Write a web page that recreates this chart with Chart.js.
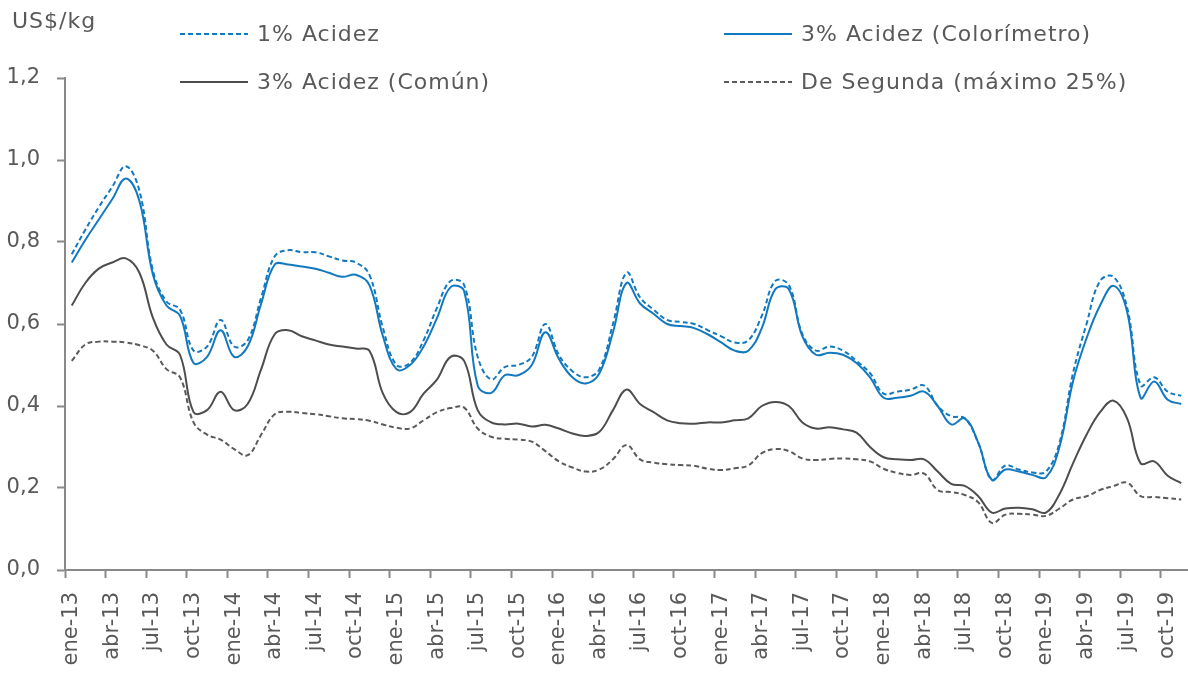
<!DOCTYPE html>
<html>
<head>
<meta charset="utf-8">
<script src="https://cdn.jsdelivr.net/npm/chart.js@4.4.1/dist/chart.umd.min.js"></script>
<style>
  html, body { margin: 0; padding: 0; background: #fff; }
  #wrap { width: 1188px; height: 678px; }
</style>
</head>
<body>
<div id="wrap"><canvas id="chart" width="1188" height="678"></canvas></div>
<script>
// monthly prices, US$/kg, ene-13 .. nov-19
const acidez1 = [
  0.77, 0.83, 0.885, 0.935, 0.985, 0.925, 0.73, 0.655, 0.635, 0.535, 0.545, 0.61,
  0.545, 0.56, 0.665, 0.765, 0.78, 0.775, 0.775, 0.765, 0.755, 0.75, 0.72, 0.59,
  0.50, 0.505, 0.56, 0.64, 0.705, 0.695, 0.52, 0.465, 0.495, 0.50, 0.52, 0.60,
  0.525, 0.485, 0.47, 0.49, 0.60, 0.725, 0.665, 0.635, 0.61, 0.605, 0.60, 0.585,
  0.57, 0.555, 0.56, 0.62, 0.705, 0.695, 0.575, 0.535, 0.545, 0.535, 0.51, 0.48,
  0.43, 0.435, 0.44, 0.45, 0.40, 0.375, 0.37, 0.31, 0.22, 0.255, 0.245, 0.238,
  0.24, 0.31, 0.48, 0.60, 0.705, 0.715, 0.64, 0.45, 0.47, 0.435, 0.425
];
const acidez3Color = [
  0.75, 0.805, 0.855, 0.905, 0.955, 0.90, 0.72, 0.645, 0.62, 0.505, 0.52, 0.585,
  0.52, 0.545, 0.65, 0.745, 0.745, 0.74, 0.735, 0.725, 0.715, 0.72, 0.695, 0.57,
  0.49, 0.50, 0.545, 0.615, 0.69, 0.68, 0.45, 0.432, 0.475, 0.475, 0.50, 0.58,
  0.515, 0.47, 0.455, 0.48, 0.58, 0.70, 0.65, 0.625, 0.60, 0.595, 0.59, 0.575,
  0.555, 0.535, 0.535, 0.59, 0.685, 0.685, 0.57, 0.525, 0.53, 0.525, 0.505, 0.47,
  0.42, 0.42, 0.425, 0.435, 0.40, 0.355, 0.37, 0.31, 0.22, 0.245, 0.24, 0.232,
  0.226, 0.30, 0.46, 0.565, 0.645, 0.693, 0.63, 0.42, 0.46, 0.415, 0.405
];
const acidez3Comun = [
  0.645, 0.70, 0.735, 0.75, 0.76, 0.725, 0.615, 0.55, 0.525, 0.385, 0.39, 0.435,
  0.39, 0.405, 0.49, 0.575, 0.585, 0.57, 0.56, 0.55, 0.545, 0.54, 0.535, 0.43,
  0.385, 0.385, 0.43, 0.465, 0.52, 0.51, 0.39, 0.36, 0.355, 0.357, 0.35, 0.354,
  0.345, 0.333, 0.327, 0.337, 0.39, 0.44, 0.405, 0.385, 0.365, 0.358, 0.357, 0.36,
  0.36, 0.365, 0.37, 0.40, 0.41, 0.40, 0.36, 0.345, 0.348, 0.343, 0.335, 0.30,
  0.275, 0.27, 0.268, 0.27, 0.24, 0.21, 0.205, 0.18, 0.14, 0.15, 0.152, 0.148,
  0.14, 0.185, 0.26, 0.33, 0.385, 0.413, 0.37, 0.26, 0.265, 0.23, 0.212
];
const deSegunda = [
  0.51, 0.55, 0.557, 0.557, 0.555, 0.548, 0.535, 0.49, 0.47, 0.36, 0.33, 0.318,
  0.295, 0.28, 0.33, 0.38, 0.386, 0.383, 0.38, 0.375, 0.37, 0.368, 0.364, 0.355,
  0.347, 0.345, 0.365, 0.385, 0.395, 0.396, 0.345, 0.325, 0.32, 0.318, 0.313, 0.29,
  0.265, 0.25, 0.24, 0.245, 0.27, 0.305, 0.27, 0.262, 0.258, 0.256, 0.254, 0.247,
  0.244, 0.248, 0.255, 0.285, 0.295, 0.29, 0.272, 0.268, 0.271, 0.272, 0.27, 0.265,
  0.247, 0.237, 0.232, 0.235, 0.195, 0.19, 0.183, 0.165, 0.115, 0.135, 0.137, 0.135,
  0.132, 0.15, 0.172, 0.18, 0.195, 0.205, 0.213, 0.18, 0.178, 0.175, 0.172
];
const seriesNames = [
  "1% Acidez",
  "3% Acidez (Colorímetro)",
  "3% Acidez (Común)",
  "De Segunda (máximo 25%)"
];
const monthNames = ["ene", "feb", "mar", "abr", "may", "jun", "jul", "ago", "sep", "oct", "nov", "dic"];
const years = ["13", "14", "15", "16", "17", "18", "19"];
const yTicks = [0, 0.2, 0.4, 0.6, 0.8, 1.0, 1.2];

const months = [];
years.forEach(y => monthNames.forEach(m => months.push(m + "-" + y)));
const labels = months.slice(0, acidez1.length);

const FONT = '"DejaVu Sans", sans-serif';
const TXT = "#595959";
const AXIS = "#898989";
const BLUE = "#1279bf";

// legend drawn in two fixed columns like the original
const fixedLegend = {
  id: "fixedLegend",
  afterDraw(chart) {
    const ctx = chart.ctx;
    const slots = [[180, 34], [724, 34], [180, 82], [724, 82]];
    ctx.save();
    ctx.font = "22px " + FONT;
    ctx.letterSpacing = "1px";
    ctx.textBaseline = "middle";
    ctx.textAlign = "left";
    chart.data.datasets.forEach((ds, i) => {
      const [x, y] = slots[i];
      ctx.strokeStyle = ds.borderColor;
      ctx.lineWidth = 2;
      ctx.setLineDash(ds.borderDash || []);
      ctx.beginPath();
      ctx.moveTo(x, y);
      ctx.lineTo(x + 68, y);
      ctx.stroke();
      ctx.setLineDash([]);
      ctx.fillStyle = TXT;
      ctx.fillText(ds.label, x + 77, y + 1);
    });
    ctx.fillText("US$/kg", 12, 22);
    ctx.restore();
  }
};

const c1 = document.getElementById("chart").getContext("2d");
new Chart(c1, {
  type: "line",
  data: {
    labels: labels,
    datasets: [
      { label: seriesNames[0], data: acidez1, borderColor: BLUE, borderDash: [5, 3] },
      { label: seriesNames[1], data: acidez3Color, borderColor: BLUE },
      { label: seriesNames[2], data: acidez3Comun, borderColor: "#4d4d4d" },
      { label: seriesNames[3], data: deSegunda, borderColor: "#5a5a5a", borderDash: [5, 3] }
    ]
  },
  options: {
    responsive: false,
    animation: false,
    layout: { padding: { top: 78, right: 0, left: 0, bottom: 0 } },
    elements: {
      point: { radius: 0 },
      line: { tension: 0.4, borderWidth: 2, fill: false }
    },
    plugins: {
      legend: { display: false },
      tooltip: { enabled: false }
    },
    scales: {
      x: {
        offset: true,
        grid: {
          offset: true,
          drawOnChartArea: false,
          tickLength: 8,
          tickWidth: 2,
          tickColor: ctx => (ctx.index % 3 === 0 ? AXIS : "rgba(0,0,0,0)")
        },
        border: { color: AXIS, width: 2 },
        ticks: {
          autoSkip: false,
          minRotation: 90,
          maxRotation: 90,
          padding: 14,
          color: TXT,
          font: { family: FONT, size: 21 },
          callback: (v, i) => (i % 3 === 0 ? labels[i] : "")
        },
        afterFit: s => {
          s.height = 108;
          s.paddingLeft = 0;
          s.paddingRight = 0;
        }
      },
      y: {
        min: 0,
        max: 1.2,
        afterBuildTicks: s => { s.ticks = yTicks.map(v => ({ value: v })); },
        grid: { drawOnChartArea: false, tickLength: 8, tickWidth: 2, color: AXIS },
        border: { color: AXIS, width: 2 },
        ticks: {
          padding: 17,
          color: TXT,
          font: { family: FONT, size: 21 },
          callback: v => v.toFixed(1).replace(".", ",")
        },
        afterFit: s => { s.width = 65; }
      }
    }
  },
  plugins: [fixedLegend]
});
</script>
</body>
</html>
